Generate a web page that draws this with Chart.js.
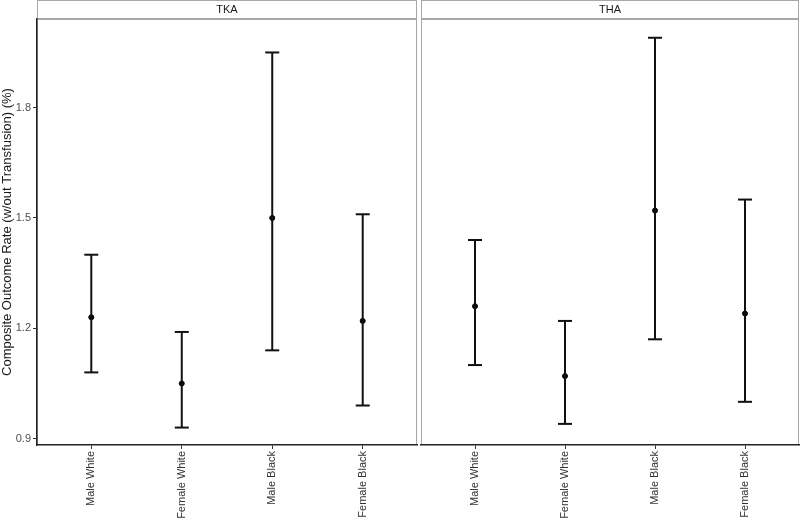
<!DOCTYPE html>
<html>
<head>
<meta charset="utf-8">
<script src="https://cdn.jsdelivr.net/npm/chart.js@4.4.1/dist/chart.umd.min.js"></script>
<style>
  body { margin: 0; background: #fff; }
  #wrap { position: relative; width: 800px; height: 520px; }
  canvas { position: absolute; top: 0; }
  #tka { left: 0; }
  #tha { left: 418px; }
</style>
</head>
<body>
<div id="wrap">
  <canvas id="tka" width="418" height="520"></canvas>
  <canvas id="tha" width="382" height="520"></canvas>
</div>
<script>
const categories = ['Male White', 'Female White', 'Male Black', 'Female Black']

const tkaEst = [1.23, 1.05, 1.50, 1.22]
const tkaLow = [1.08, 0.93, 1.14, 0.99]
const tkaHigh = [1.40, 1.19, 1.95, 1.51]

const thaEst = [1.26, 1.07, 1.52, 1.24]
const thaLow = [1.10, 0.94, 1.17, 1.00]
const thaHigh = [1.44, 1.22, 1.99, 1.55]

const yTicks = [0.9, 1.2, 1.5, 1.8]

const fontFamily = 'Arial, "Liberation Sans", sans-serif'
Chart.defaults.font.family = fontFamily
Chart.defaults.animation = false

// facet strip on top + grey panel frame
const panelPlugin = {
    id: 'panel',
    beforeDraw(chart, args, opts) {
        const { ctx, chartArea } = chart
        const w = chartArea.right - chartArea.left
        ctx.save()
        ctx.strokeStyle = '#a8a8a8'
        ctx.lineWidth = 1
        ctx.strokeRect(chartArea.left + 0.5, chartArea.top + 0.5, w - 1, chartArea.bottom - chartArea.top - 1)
        ctx.strokeRect(chartArea.left + 0.5, 0.5, w - 1, chartArea.top - 1)
        ctx.fillStyle = '#1a1a1a'
        ctx.font = '11px ' + fontFamily
        ctx.textAlign = 'center'
        ctx.textBaseline = 'middle'
        ctx.fillText(opts.label, chartArea.left + w / 2, chartArea.top / 2 + 0.5)
        ctx.restore()
    }
}

const makeChart = (id, label, est, low, high, showY) => {
    const bars = categories.map((c, i) => ({
        type: 'line',
        data: [{ x: i, y: low[i] }, { x: i, y: high[i] }],
        borderColor: '#111',
        borderWidth: 2,
        pointStyle: 'line',
        pointRadius: 7,
        pointBorderWidth: 2,
        pointBorderColor: '#111',
        showLine: true
    }))
    const points = {
        type: 'scatter',
        data: categories.map((c, i) => ({ x: i, y: est[i] })),
        backgroundColor: '#000',
        borderColor: '#000',
        pointRadius: 2.5
    }

    return new Chart(document.getElementById(id), {
        type: 'scatter',
        data: { datasets: [...bars, points] },
        plugins: [panelPlugin],
        options: {
            responsive: false,
            layout: { autoPadding: false, padding: { top: 19, right: 1, left: showY ? 0 : 3, bottom: 0 } },
            plugins: {
                legend: { display: false },
                tooltip: { enabled: false },
                panel: { label: label }
            },
            scales: {
                x: {
                    type: 'linear',
                    min: -0.6,
                    max: 3.6,
                    afterBuildTicks: scale => { scale.ticks = categories.map((c, i) => ({ value: i })) },
                    afterFit: scale => {
                        scale.height = 75
                        scale.paddingLeft = 0
                        scale.paddingRight = 0
                    },
                    ticks: {
                        callback: v => categories[v],
                        minRotation: 90,
                        maxRotation: 90,
                        padding: 2,
                        color: '#333',
                        font: { size: 11 }
                    },
                    grid: { drawOnChartArea: false, tickLength: 4, color: '#333' },
                    border: { color: '#222', width: 1.5 }
                },
                y: {
                    display: showY,
                    min: 0.8826,
                    max: 2.041,
                    afterBuildTicks: scale => { scale.ticks = yTicks.map(v => ({ value: v })) },
                    afterFit: scale => { scale.width = showY ? 37 : 0 },
                    ticks: {
                        callback: v => v.toFixed(1),
                        padding: 2,
                        color: '#4d4d4d',
                        font: { size: 11 }
                    },
                    grid: { drawOnChartArea: false, tickLength: 4, color: '#333' },
                    border: { color: '#222', width: 1.5 },
                    title: {
                        display: true,
                        text: 'Composite Outcome Rate (w/out Transfusion) (%)',
                        color: '#1a1a1a',
                        font: { size: 13 },
                        padding: 0
                    }
                }
            }
        }
    })
}

makeChart('tka', 'TKA', tkaEst, tkaLow, tkaHigh, true)
makeChart('tha', 'THA', thaEst, thaLow, thaHigh, false)
</script>
</body>
</html>
